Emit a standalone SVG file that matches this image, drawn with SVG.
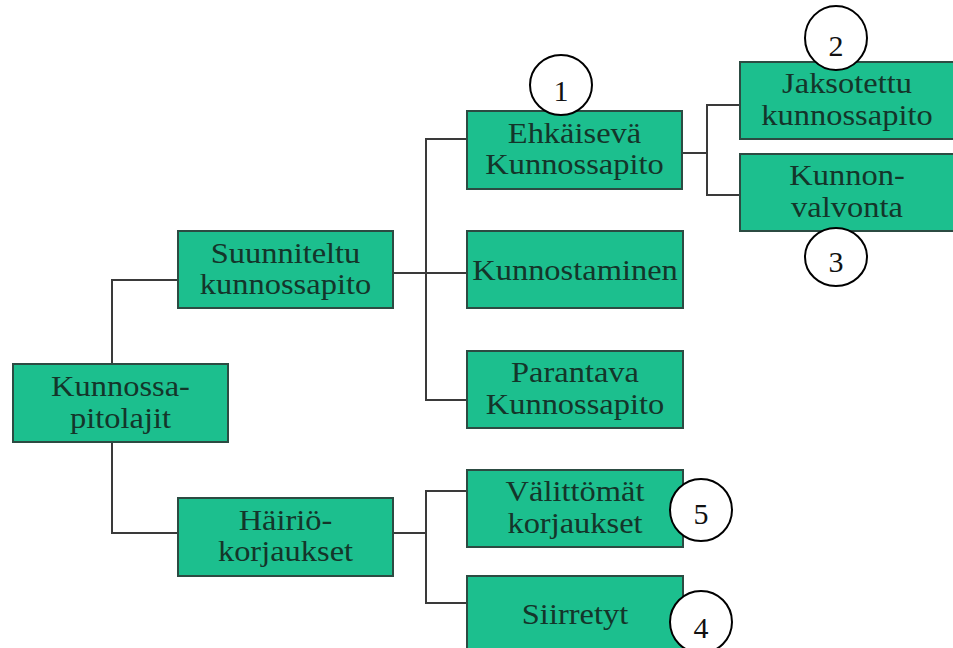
<svg xmlns="http://www.w3.org/2000/svg" width="953" height="648" viewBox="0 0 953 648">
<style>
.box{fill:#1cbf8e;stroke:#2c4b42;stroke-width:2}
.lbl{font-family:"Liberation Serif","Times New Roman",serif;font-size:29px;fill:#14352a;text-anchor:middle}
.con{fill:none;stroke:#3a3a3a;stroke-width:2}
.mark{fill:#fff;stroke:#000;stroke-width:2}
.num{font-family:"Liberation Serif","Times New Roman",serif;font-size:30px;fill:#111;text-anchor:middle}
</style>
<rect width="953" height="648" fill="#fff"/>
<g id="connectors">
<path class="con" d="M178 280 H112 V533 H178"/>
<path class="con" d="M393 273 H467"/>
<path class="con" d="M467 139 H426 V400 H467"/>
<path class="con" d="M682 153 H707"/>
<path class="con" d="M740 105 H707 V195 H740"/>
<path class="con" d="M393 533 H426"/>
<path class="con" d="M467 491 H426 V603 H467"/>
</g>
<g id="root">
<rect class="box" x="13" y="364" width="215" height="78"/>
<text class="lbl" transform="translate(120.5,396) scale(1.12,1)"><tspan x="0">Kunnossa-</tspan><tspan x="0" dy="32">pitolajit</tspan></text>
</g>
<g id="suunniteltu">
<rect class="box" x="178" y="231" width="215" height="77"/>
<text class="lbl" transform="translate(285.5,262.5) scale(1.12,1)"><tspan x="0">Suunniteltu</tspan><tspan x="0" dy="32">kunnossapito</tspan></text>
</g>
<g id="hairio">
<rect class="box" x="178" y="498" width="215" height="78"/>
<text class="lbl" transform="translate(285.5,529.5) scale(1.12,1)"><tspan x="0">Häiriö-</tspan><tspan x="0" dy="32">korjaukset</tspan></text>
</g>
<g id="ehkaiseva">
<rect class="box" x="467" y="111" width="215" height="78"/>
<text class="lbl" transform="translate(574.5,142.5) scale(1.12,1)"><tspan x="0">Ehkäisevä</tspan><tspan x="0" dy="32">Kunnossapito</tspan></text>
</g>
<g id="kunnostaminen">
<rect class="box" x="467" y="231" width="216" height="77"/>
<text class="lbl" transform="translate(575,280) scale(1.12,1)">Kunnostaminen</text>
</g>
<g id="parantava">
<rect class="box" x="467" y="351" width="216" height="77"/>
<text class="lbl" transform="translate(575,382) scale(1.12,1)"><tspan x="0">Parantava</tspan><tspan x="0" dy="32">Kunnossapito</tspan></text>
</g>
<g id="jaksotettu">
<rect class="box" x="740" y="62" width="216" height="77"/>
<text class="lbl" transform="translate(847,93) scale(1.12,1)"><tspan x="0">Jaksotettu</tspan><tspan x="0" dy="32">kunnossapito</tspan></text>
</g>
<g id="kunnonvalvonta">
<rect class="box" x="740" y="154" width="216" height="77"/>
<text class="lbl" transform="translate(847,185) scale(1.12,1)"><tspan x="0">Kunnon-</tspan><tspan x="0" dy="32">valvonta</tspan></text>
</g>
<g id="valittomat">
<rect class="box" x="467" y="470" width="216" height="77"/>
<text class="lbl" transform="translate(575,501) scale(1.12,1)"><tspan x="0">Välittömät</tspan><tspan x="0" dy="32">korjaukset</tspan></text>
</g>
<g id="siirretyt">
<rect class="box" x="467" y="576" width="216" height="78"/>
<text class="lbl" transform="translate(575,624) scale(1.12,1)">Siirretyt</text>
</g>
<g id="mark1"><ellipse class="mark" cx="561" cy="85" rx="31" ry="30"/><text class="num" x="561" y="101">1</text></g>
<g id="mark2"><ellipse class="mark" cx="836" cy="38" rx="31" ry="32"/><text class="num" x="836" y="56">2</text></g>
<g id="mark3"><ellipse class="mark" cx="836" cy="257" rx="31" ry="29"/><text class="num" x="836" y="272">3</text></g>
<g id="mark5"><ellipse class="mark" cx="701" cy="510" rx="31" ry="31"/><text class="num" x="701" y="524">5</text></g>
<g id="mark4"><ellipse class="mark" cx="701" cy="622" rx="31" ry="31"/><text class="num" x="701" y="638">4</text></g>
</svg>
